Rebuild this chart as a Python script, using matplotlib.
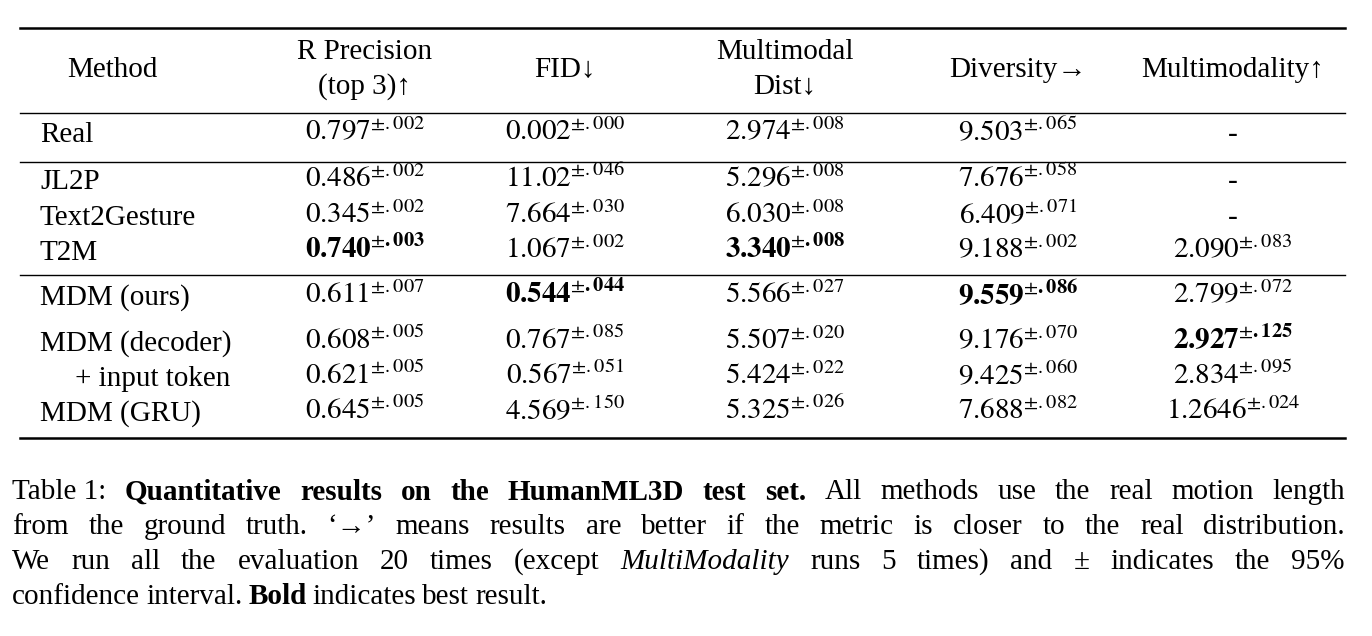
import matplotlib.pyplot as plt

plt.rcParams['mathtext.fontset'] = 'stix'
plt.rcParams['font.family'] = ['Liberation Serif', 'DejaVu Serif']

W, H = 1372, 636
headers = [["Method"], ["R Precision", "(top 3)↑"], ["FID↓"], ["Multimodal", "Dist↓"],
           ["Diversity→"], ["Multimodality↑"]]
methods = ["Real", "JL2P", "Text2Gesture", "T2M", "MDM (ours)", "MDM (decoder)",
           "+ input token", "MDM (GRU)"]
r_prec = [("0.797", ".002"), ("0.486", ".002"), ("0.345", ".002"), ("0.740", ".003"),
          ("0.611", ".007"), ("0.608", ".005"), ("0.621", ".005"), ("0.645", ".005")]
fid = [("0.002", ".000"), ("11.02", ".046"), ("7.664", ".030"), ("1.067", ".002"),
       ("0.544", ".044"), ("0.767", ".085"), ("0.567", ".051"), ("4.569", ".150")]
mm_dist = [("2.974", ".008"), ("5.296", ".008"), ("6.030", ".008"), ("3.340", ".008"),
           ("5.566", ".027"), ("5.507", ".020"), ("5.424", ".022"), ("5.325", ".026")]
diversity = [("9.503", ".065"), ("7.676", ".058"), ("6.409", ".071"), ("9.188", ".002"),
             ("9.559", ".086"), ("9.176", ".070"), ("9.425", ".060"), ("7.688", ".082")]
multimod = [None, None, None, ("2.090", ".083"), ("2.799", ".072"), ("2.927", ".125"),
            ("2.834", ".095"), ("1.2646", ".024")]
bold = {(1, 3), (2, 4), (3, 3), (4, 4), (5, 5)}  # (column, row)

fig = plt.figure(figsize=(W / 100, H / 100), dpi=100)
ax = fig.add_axes([0, 0, 1, 1])
ax.set_xlim(0, W)
ax.set_ylim(H, 0)
ax.axis('off')

fs = 21
col_x = [112, 365, 565, 785, 1018, 1233]
row_y = [135, 182, 218, 253, 298, 344, 379, 414]

# header
for x, h in zip(col_x, headers):
    if len(h) == 1:
        ax.text(x, 70, h[0], ha='center', va='center', fontsize=fs)
    else:
        ax.text(x, 52, h[0], ha='center', va='center', fontsize=fs)
        ax.text(x, 87, h[1], ha='center', va='center', fontsize=fs)

# rules
ax.plot([20, 1345], [28, 28], color='black', lw=1.8)
for y in [113, 162, 275]:
    ax.plot([20, 1345], [y, y], color='black', lw=1.0)
ax.plot([20, 1345], [438, 438], color='black', lw=1.8)

for i, m in enumerate(methods):
    x = 75 if m.startswith("+") else 40
    ax.text(x, row_y[i], m, ha='left', va='center', fontsize=fs)

for c, col in enumerate([r_prec, fid, mm_dist, diversity, multimod], start=1):
    for r, v in enumerate(col):
        if v is None:
            ax.text(col_x[c], row_y[r], "-", ha='center', va='center', fontsize=fs)
            continue
        if (c, r) in bold:
            s = r"$\mathbf{%s}^{{\pm}\mathbf{%s}}$" % v
        else:
            s = r"$\mathrm{%s}^{{\pm}\mathrm{%s}}$" % v
        ax.text(col_x[c], row_y[r] - 3, s, ha='center', va='center', fontsize=fs)

# caption, justified lines
cap = [
    [("Table 1:", 'n'), ("Quantitative", 'b'), ("results", 'b'), ("on", 'b'), ("the", 'b'),
     ("HumanML3D", 'b'), ("test", 'b'), ("set.", 'b'), ("All", 'n'), ("methods", 'n'),
     ("use", 'n'), ("the", 'n'), ("real", 'n'), ("motion", 'n'), ("length", 'n')],
    [("from", 'n'), ("the", 'n'), ("ground", 'n'), ("truth.", 'n'), ("‘→’", 'n'), ("means", 'n'),
     ("results", 'n'), ("are", 'n'), ("better", 'n'), ("if", 'n'), ("the", 'n'), ("metric", 'n'),
     ("is", 'n'), ("closer", 'n'), ("to", 'n'), ("the", 'n'), ("real", 'n'), ("distribution.", 'n')],
    [("We", 'n'), ("run", 'n'), ("all", 'n'), ("the", 'n'), ("evaluation", 'n'), ("20", 'n'),
     ("times", 'n'), ("(except", 'n'), ("MultiModality", 'i'), ("runs", 'n'), ("5", 'n'),
     ("times)", 'n'), ("and", 'n'), ("±", 'n'), ("indicates", 'n'), ("the", 'n'), ("95%", 'n')],
    [("confidence", 'n'), ("interval.", 'n'), ("Bold", 'b'), ("indicates", 'n'), ("best", 'n'),
     ("result.", 'n')],
]
cap_y = [492, 527, 562, 597]
fig.canvas.draw()
rend = fig.canvas.get_renderer()
inv = ax.transData.inverted()
left, right = 12, 1345
for li, (line, y) in enumerate(zip(cap, cap_y)):
    arts = []
    for word, st in line:
        t = ax.text(0, y, word, ha='left', va='center', fontsize=fs,
                    fontweight='bold' if st == 'b' else 'normal',
                    fontstyle='italic' if st == 'i' else 'normal')
        bb = t.get_window_extent(rend)
        (x0, _), (x1, _) = inv.transform([[bb.x0, 0], [bb.x1, 0]])
        arts.append((t, x1 - x0))
    total = sum(w for _, w in arts)
    if li < len(cap) - 1:
        gap = (right - left - total) / (len(arts) - 1)
    else:
        gap = 6
    x = left
    for t, w in arts:
        t.set_x(x)
        x += w + gap

fig.savefig("out.png", dpi=100)
